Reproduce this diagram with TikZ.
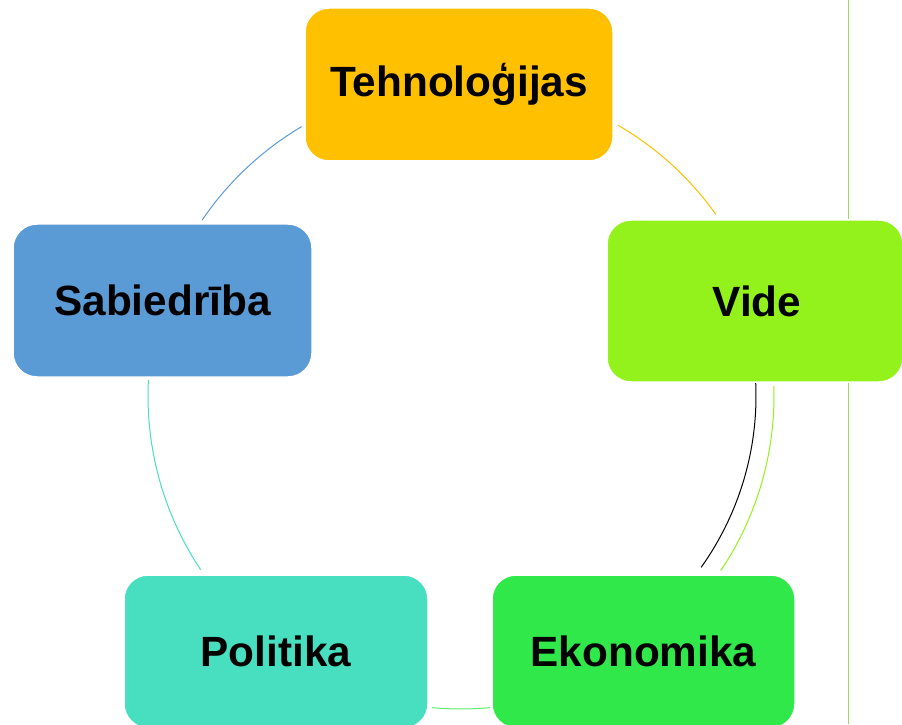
\documentclass[tikz,border=0pt]{standalone}
\usepackage{fontspec}
\setmainfont{Liberation Sans}
\definecolor{cTech}{HTML}{FFC000}
\definecolor{cVide}{HTML}{94F21C}
\definecolor{cEko}{HTML}{31E84B}
\definecolor{cPol}{HTML}{48DFC0}
\definecolor{cSab}{HTML}{5B9BD5}
\definecolor{cLine}{HTML}{9ADB5A}
\begin{document}
\begin{tikzpicture}[x=1pt,y=1pt,
  box/.style={rectangle, rounded corners=24pt, draw=white, line width=1.5pt, inner sep=0pt,
    font=\fontsize{42.3}{48}\selectfont\bfseries, text=black},
  arcline/.style={line width=1pt}]
\clip (0,0) rectangle (902,724);
\fill[white] (0,0) rectangle (902,724);
\coordinate (c) at (461,328);
\coordinate (vtop) at (848,724);
\coordinate (vbot) at (848,0);
\draw[cLine, line width=1pt] (vtop) -- (vbot);
% arcs
\draw[arcline, cSab] ([shift={(c)}]145.8:313) arc[start angle=145.8, end angle=120.6, radius=313];
\draw[arcline, cTech] ([shift={(c)}]59.9:313) arc[start angle=59.9, end angle=35.5, radius=313];
\draw[arcline, cVide] ([shift={(c)}]1.8:313) arc[start angle=1.8, end angle=-33.9, radius=313];
\draw[arcline, black] ([shift={(c)}]3.3:295) arc[start angle=3.3, end angle=-35.5, radius=295];
\draw[arcline, cEko!80!white] ([shift={(c)}]-84.7:313) arc[start angle=-84.7, end angle=-95.3, radius=313];
\draw[arcline, cPol] ([shift={(c)}]213.7:313) arc[start angle=213.7, end angle=177.1, radius=313];
% boxes
\node[box, fill=cTech, minimum width=308pt, minimum height=153pt] (tech) at (459,639.5) {Tehnoloģijas};
\node[box, fill=cVide, minimum width=296pt, minimum height=162pt] (vide) at (755,423) {\hspace*{4pt}Vide};
\node[box, fill=cSab, minimum width=299pt, minimum height=153pt] (sab) at (162.5,423.5) {Sabiedrība};
\node[box, fill=cPol, minimum width=304pt, minimum height=153pt] (pol) at (276,72.5) {Politika};
\node[box, fill=cEko, minimum width=303pt, minimum height=153pt] (eko) at (643.5,72.5) {Ekonomika};
\end{tikzpicture}
\end{document}
